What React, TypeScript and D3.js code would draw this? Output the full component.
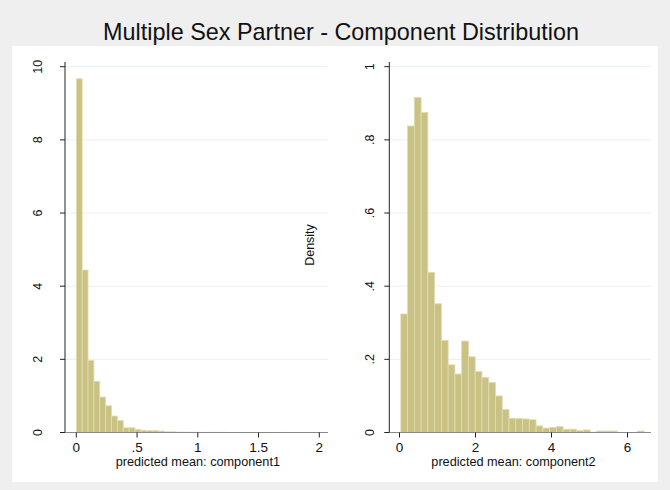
import * as d3 from "d3";

// histogram densities, 36 bins each
const leftStart = 0;
const leftBinWidth = 0.0483;
const leftDensity = [
  9.67, 4.44, 1.97, 1.4, 0.97, 0.73, 0.45, 0.33, 0.13, 0.13, 0.08, 0.06,
  0.05, 0.05, 0.04, 0.02, 0.02, 0.01, 0.01, 0.008, 0.008, 0.005, 0.005, 0.006,
  0.006, 0.006, 0.003, 0, 0, 0, 0, 0, 0, 0, 0, 0.005,
];
const rightStart = 0.034;
const rightBinWidth = 0.178;
const rightDensity = [
  0.324, 0.838, 0.916, 0.875, 0.438, 0.352, 0.252, 0.185, 0.16, 0.25, 0.207,
  0.167, 0.15, 0.137, 0.1, 0.063, 0.039, 0.038, 0.037, 0.035, 0.018, 0.012,
  0.014, 0.016, 0.009, 0.009, 0.005, 0.007, 0.001, 0.004, 0.004, 0.004, 0, 0, 0,
  0.004,
];
const leftYTicks = [0, 2, 4, 6, 8, 10];
const leftXTicks = [0, 0.5, 1, 1.5, 2];
const rightYTicks = [0, 0.2, 0.4, 0.6, 0.8, 1];
const rightXTicks = [0, 2, 4, 6];

const W = 670;
const H = 490;
const font = "Liberation Sans, Arial, sans-serif";
const barFill = "#cac284";
const barStroke = "#e2ddb0";

const fmt = (v: number) => {
  const s = String(v);
  return s.startsWith("0.") ? s.slice(1) : s;
};

type PanelProps = {
  start: number;
  binWidth: number;
  values: number[];
  xDomain: [number, number];
  xRange: [number, number];
  yMax: number;
  xTicks: number[];
  yTicks: number[];
  axisX: number;
  axisRight: number;
  labelX: number;
  xTitle: string;
};

function Panel(p: PanelProps) {
  const x = d3.scaleLinear().domain(p.xDomain).range(p.xRange);
  const y = d3.scaleLinear().domain([0, p.yMax]).range([432.5, 66.7]);
  const base = y(0);
  return (
    <g>
      {p.yTicks.map((t) => (
        <line
          key={"g" + t}
          x1={p.axisX}
          x2={p.axisRight}
          y1={y(t)}
          y2={y(t)}
          stroke="#e8f0f2"
          strokeWidth={1}
        />
      ))}
      {p.values.map((v, i) =>
        v > 0 ? (
          <rect
            key={i}
            x={x(p.start + i * p.binWidth)}
            width={x(p.start + (i + 1) * p.binWidth) - x(p.start + i * p.binWidth)}
            y={y(v)}
            height={base - y(v)}
            fill={barFill}
            stroke={barStroke}
            strokeWidth={0.8}
          />
        ) : null
      )}
      <line x1={p.axisX} x2={p.axisX} y1={62} y2={base} stroke="#222" />
      <line x1={p.axisX - 0.5} x2={p.axisRight} y1={base} y2={base} stroke="#888" />
      {p.yTicks.map((t) => (
        <g key={"y" + t}>
          <line x1={p.axisX - 5} x2={p.axisX} y1={y(t)} y2={y(t)} stroke="#222" />
          <text
            transform={`translate(${p.labelX},${y(t)}) rotate(-90)`}
            textAnchor="middle"
            fontFamily={font}
            fontSize={12.5}
            fill="#111"
          >
            {fmt(t)}
          </text>
        </g>
      ))}
      {p.xTicks.map((t) => (
        <g key={"x" + t}>
          <line x1={x(t)} x2={x(t)} y1={base} y2={base + 5} stroke="#222" />
          <text
            x={x(t)}
            y={452}
            textAnchor="middle"
            fontFamily={font}
            fontSize={13.5}
            fill="#111"
          >
            {fmt(t)}
          </text>
        </g>
      ))}
      <text
        x={(p.xRange[0] + p.xRange[1]) / 2}
        y={466}
        textAnchor="middle"
        fontFamily={font}
        fontSize={12.7}
        fill="#111"
      >
        {p.xTitle}
      </text>
    </g>
  );
}

export default function App() {
  return (
    <svg
      width={W}
      height={H}
      style={{ position: "absolute", left: 0, top: 0 }}
      xmlns="http://www.w3.org/2000/svg"
    >
      <rect x={0} y={0} width={W} height={H} fill="#efefef" />
      <rect x={12} y={46} width={646} height={436} fill="#ffffff" />
      <text
        x={341}
        y={40}
        textAnchor="middle"
        fontFamily={font}
        fontSize={23.4}
        fill="#111"
      >
        Multiple Sex Partner - Component Distribution
      </text>
      <Panel
        start={leftStart}
        binWidth={leftBinWidth}
        values={leftDensity}
        xDomain={[0, 2]}
        xRange={[76.3, 319.3]}
        yMax={10}
        xTicks={leftXTicks}
        yTicks={leftYTicks}
        axisX={65}
        axisRight={328}
        labelX={42}
        xTitle="predicted mean: component1"
      />
      <Panel
        start={rightStart}
        binWidth={rightBinWidth}
        values={rightDensity}
        xDomain={[0, 6]}
        xRange={[399.5, 627.5]}
        yMax={1}
        xTicks={rightXTicks}
        yTicks={rightYTicks}
        axisX={389.3}
        axisRight={651}
        labelX={374}
        xTitle="predicted mean: component2"
      />
      <text
        transform="translate(314,245) rotate(-90)"
        textAnchor="middle"
        fontFamily={font}
        fontSize={12.5}
        fill="#111"
      >
        Density
      </text>
    </svg>
  );
}
